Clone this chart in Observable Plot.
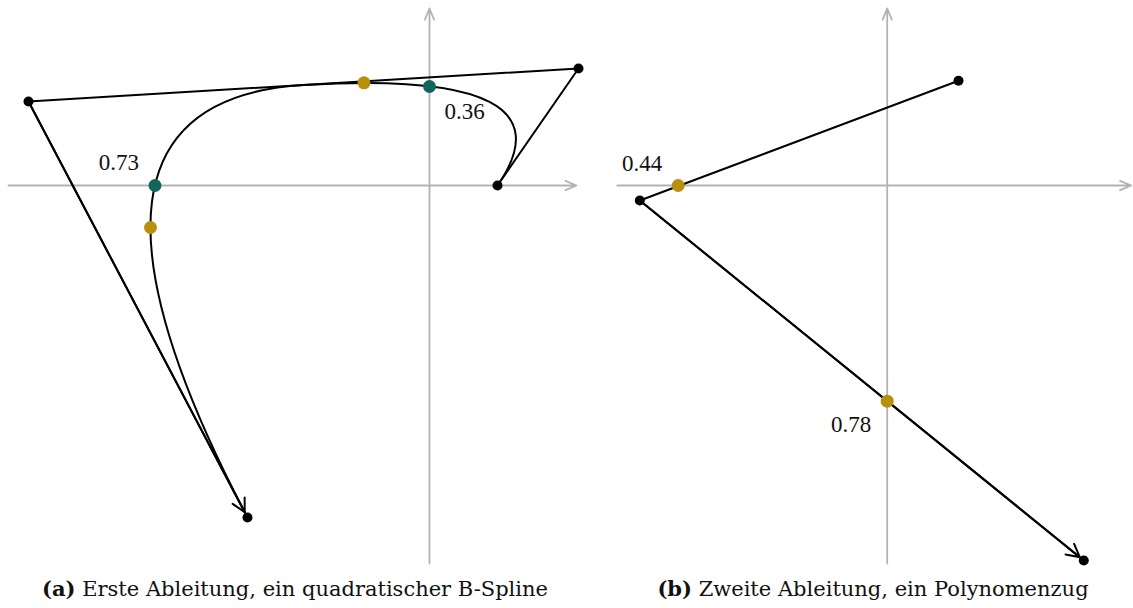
<!DOCTYPE html>
<html>
<head>
<meta charset="utf-8">
<script src="https://cdn.jsdelivr.net/npm/d3@7"></script>
<script src="https://cdn.jsdelivr.net/npm/@observablehq/plot@0.6"></script>
<style>
  html, body { margin: 0; padding: 0; background: #fff; }
  #wrap { position: relative; width: 1133px; height: 608px; overflow: hidden; font-family: "DejaVu Serif", "Liberation Serif", serif; }
  .panel { position: absolute; top: 0; }
  .cap { position: absolute; top: 578px; font-size: 21px; line-height: 22px; text-align: center; color: #111; white-space: nowrap; font-family: "DejaVu Serif", "Liberation Serif", serif; }
  svg text { font-family: "Liberation Serif", "DejaVu Serif", serif; }
</style>
</head>
<body>
<div id="wrap">
  <div id="pa" class="panel" style="left:0px"></div>
  <div id="pb" class="panel" style="left:600px"></div>
  <div id="ca" class="cap" style="left:0px;width:590px"></div>
  <div id="cb" class="cap" style="left:600px;width:546px"></div>
</div>
<script>
// ---------- data (units: one unit = 100 px of the original, origin at the axes cross) ----------
// (a) first derivative: control points of the quadratic B-spline
const ctrlA_x = [0.68, 1.49, -4.01, -1.82];
const ctrlA_y = [0.00, 1.17, 0.84, -3.32];
// parameter values where the derivative crosses an axis (teal)
const tealA_t = ["0.36", "0.73"];
const tealA_x = [0.00, -2.745];
const tealA_y = [0.99, 0.00];
// parameter values with horizontal / vertical tangent (gold)
const goldA_t = ["0.44", "0.78"];
const goldA_x = [-0.655, -2.79];
const goldA_y = [1.027, -0.42];

// (b) second derivative: control polygon (linear B-spline)
const ctrlB_x = [0.713, -2.474, 1.966];
const ctrlB_y = [1.047, -0.15, -3.75];
const goldB_t = ["0.44", "0.78"];
const goldB_x = [-2.09, 0.00];
const goldB_y = [0.00, -2.157];

// coordinate axes extents
const axesA_x = [-4.21, 1.47];   // horizontal axis from .. to (arrow)
const axesA_y = [-3.78, 1.77];   // vertical axis from .. to (arrow)
const axesB_x = [-2.70, 2.44];
const axesB_y = [-3.78, 1.77];

const captionTags = ["(a)", "(b)"];
const captionTexts = ["Erste Ableitung, ein quadratischer B-Spline", "Zweite Ableitung, ein Polynomenzug"];

// ---------- helpers ----------
const zip = (xs, ys, ts) => xs.map((x, i) => ({x, y: ys[i], t: ts ? ts[i] : null}));

// clamped quadratic B-spline (uniform interior knots) drawn from its control points
function quadBSpline(context) {
  let pts;
  return {
    areaStart() {}, areaEnd() {},
    lineStart() { pts = []; },
    point(x, y) { pts.push([+x, +y]); },
    lineEnd() {
      const n = pts.length;
      if (!n) return;
      context.moveTo(pts[0][0], pts[0][1]);
      if (n === 2) { context.lineTo(pts[1][0], pts[1][1]); return; }
      for (let i = 1; i < n - 1; i++) {
        const e = i === n - 2 ? pts[n - 1] : [(pts[i][0] + pts[i + 1][0]) / 2, (pts[i][1] + pts[i + 1][1]) / 2];
        context.quadraticCurveTo(pts[i][0], pts[i][1], e[0], e[1]);
      }
    }
  };
}

const AX = "#b3b3b3", GOLD = "#b8900b", TEAL = "#10665b", LW = 2;
const H = 570;

function axes(xs, ys) {
  return [
    Plot.arrow([{x1: xs[0], y1: 0, x2: xs[1], y2: 0}], {x1: "x1", y1: "y1", x2: "x2", y2: "y2", stroke: AX, strokeWidth: 1.8, headLength: 10, headAngle: 45}),
    Plot.arrow([{x1: 0, y1: ys[0], x2: 0, y2: ys[1]}], {x1: "x1", y1: "y1", x2: "x2", y2: "y2", stroke: AX, strokeWidth: 1.8, headLength: 10, headAngle: 45})
  ];
}

// ---------- panel (a) ----------
const A = zip(ctrlA_x, ctrlA_y);
const tealA = zip(tealA_x, tealA_y, tealA_t);
const goldA = zip(goldA_x, goldA_y, goldA_t);
const lastA = [{x1: A[2].x, y1: A[2].y, x2: A[3].x, y2: A[3].y}];

const plotA = Plot.plot({
  width: 600, height: H,
  margin: 0,
  x: {domain: [-4.29, 1.71], axis: null},
  y: {domain: [-3.85, 1.85], axis: null},
  marks: [
    ...axes(axesA_x, axesA_y),
    Plot.line(A, {x: "x", y: "y", stroke: "#000", strokeWidth: LW}),
    Plot.line(A, {x: "x", y: "y", stroke: "#000", strokeWidth: LW, curve: quadBSpline}),
    Plot.arrow(lastA, {x1: "x1", y1: "y1", x2: "x2", y2: "y2", stroke: "#000", strokeWidth: LW, headLength: 11, headAngle: 55, insetEnd: 6}),
    Plot.dot(tealA, {x: "x", y: "y", r: 6.5, fill: TEAL}),
    Plot.dot(goldA, {x: "x", y: "y", r: 6.5, fill: GOLD}),
    Plot.dot(A, {x: "x", y: "y", r: 5, fill: "#000"}),
    Plot.text([tealA[0]], {x: "x", y: "y", text: "t", textAnchor: "start", lineAnchor: "bottom", dx: 15, dy: 32, fontSize: 23, fill: "#111"}),
    Plot.text([tealA[1]], {x: "x", y: "y", text: "t", textAnchor: "end", lineAnchor: "bottom", dx: -16, dy: -16, fontSize: 23, fill: "#111"})
  ]
});
document.getElementById("pa").appendChild(plotA);

// ---------- panel (b) ----------
const B = zip(ctrlB_x, ctrlB_y);
const goldB = zip(goldB_x, goldB_y, goldB_t);
const lastB = [{x1: B[1].x, y1: B[1].y, x2: B[2].x, y2: B[2].y}];

const plotB = Plot.plot({
  width: 533, height: H,
  margin: 0,
  x: {domain: [-2.867, 2.463], axis: null},
  y: {domain: [-3.85, 1.85], axis: null},
  marks: [
    ...axes(axesB_x, axesB_y),
    Plot.line(B, {x: "x", y: "y", stroke: "#000", strokeWidth: LW}),
    Plot.arrow(lastB, {x1: "x1", y1: "y1", x2: "x2", y2: "y2", stroke: "#000", strokeWidth: LW, headLength: 11, headAngle: 55, insetEnd: 5}),
    Plot.dot(goldB, {x: "x", y: "y", r: 6.5, fill: GOLD}),
    Plot.dot(B, {x: "x", y: "y", r: 5, fill: "#000"}),
    Plot.text([goldB[0]], {x: "x", y: "y", text: "t", textAnchor: "end", lineAnchor: "bottom", dx: -16, dy: -15, fontSize: 23, fill: "#111"}),
    Plot.text([goldB[1]], {x: "x", y: "y", text: "t", textAnchor: "end", lineAnchor: "bottom", dx: -16, dy: 31, fontSize: 23, fill: "#111"})
  ]
});
document.getElementById("pb").appendChild(plotB);

// ---------- captions ----------
["ca", "cb"].forEach((id, i) => {
  const el = document.getElementById(id);
  const b = document.createElement("b");
  b.textContent = captionTags[i];
  el.appendChild(b);
  el.appendChild(document.createTextNode(" " + captionTexts[i]));
});
</script>
</body>
</html>
